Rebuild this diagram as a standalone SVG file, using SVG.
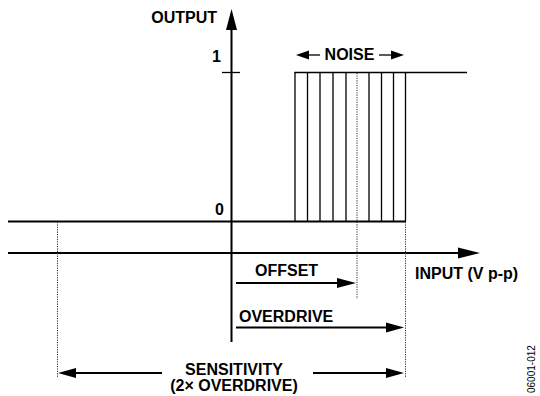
<svg xmlns="http://www.w3.org/2000/svg" width="540" height="396" viewBox="0 0 540 396">
<style>
text{font-family:"Liberation Sans",Arial,sans-serif;font-weight:bold;font-size:16px;fill:#000}
.ax{stroke:#000;stroke-width:2;fill:none}
.thin{stroke:#000;stroke-width:1.3;fill:none}
.dot{stroke:#333;stroke-width:1;stroke-dasharray:1.2 1.2;fill:none}
.head{fill:#000;stroke:none}
</style>
<rect width="540" height="396" fill="#fff"/>
<g id="axes">
<line class="ax" x1="231.5" y1="28" x2="231.5" y2="342"/>
<polygon class="head" points="231.5,9 226,30 237,30"/>
<line class="ax" x1="8" y1="253" x2="460" y2="253"/>
<polygon class="head" points="480,253 458,247.5 458,258.5"/>
<line class="thin" x1="222" y1="72.5" x2="240" y2="72.5" stroke-width="1"/>
<text x="217" y="23" text-anchor="end">OUTPUT</text>
<text x="221" y="62" text-anchor="end">1</text>
<text x="224" y="215" text-anchor="end">0</text>
<text x="415" y="279">INPUT (V p-p)</text>
</g>
<g id="transfer">
<line class="ax" x1="8" y1="221.5" x2="406" y2="221.5"/>
<line class="thin" x1="294.5" y1="72.5" x2="467" y2="72.5" stroke-width="1.6"/>
<g class="thin">
<line x1="295" y1="72" x2="295" y2="221"/>
<line x1="307.5" y1="72" x2="307.5" y2="221"/>
<line x1="320" y1="72" x2="320" y2="221"/>
<line x1="333" y1="72" x2="333" y2="221"/>
<line x1="346" y1="72" x2="346" y2="221"/>
<line x1="369" y1="72" x2="369" y2="221"/>
<line x1="381.5" y1="72" x2="381.5" y2="221"/>
<line x1="393.5" y1="72" x2="393.5" y2="221"/>
<line x1="405.5" y1="72" x2="405.5" y2="221"/>
</g>
</g>
<g id="guides">
<line class="dot" x1="357" y1="73" x2="357" y2="299"/>
<line class="dot" x1="405.5" y1="222" x2="405.5" y2="377"/>
<line class="dot" x1="57.5" y1="222" x2="57.5" y2="377"/>
</g>
<g id="noise">
<line class="thin" x1="304" y1="55" x2="320" y2="55" stroke-width="1.8"/>
<polygon class="head" points="296,55 309,50.5 309,59.5"/>
<line class="thin" x1="379" y1="55" x2="394" y2="55" stroke-width="1.8"/>
<polygon class="head" points="404,55 391,50.5 391,59.5"/>
<text x="349.5" y="60" text-anchor="middle">NOISE</text>
</g>
<g id="offset">
<line class="ax" x1="236" y1="283" x2="340" y2="283"/>
<polygon class="head" points="356,283 337,278 337,288"/>
<text x="255" y="276">OFFSET</text>
</g>
<g id="overdrive">
<line class="ax" x1="236" y1="327.5" x2="390" y2="327.5"/>
<polygon class="head" points="404,327.5 386,322.5 386,332.5"/>
<text x="239" y="322">OVERDRIVE</text>
</g>
<g id="sensitivity">
<line class="ax" x1="70" y1="373" x2="162" y2="373"/>
<polygon class="head" points="58,373 76,368 76,378"/>
<line class="ax" x1="313" y1="373" x2="390" y2="373"/>
<polygon class="head" points="404,373 386,368 386,378"/>
<text x="234" y="375" text-anchor="middle">SENSITIVITY</text>
<text x="234" y="391" text-anchor="middle">(2× OVERDRIVE)</text>
</g>
<text x="0" y="0" transform="translate(535,393) rotate(-90)" style="font-weight:normal;font-size:10px">06001-012</text>
</svg>
